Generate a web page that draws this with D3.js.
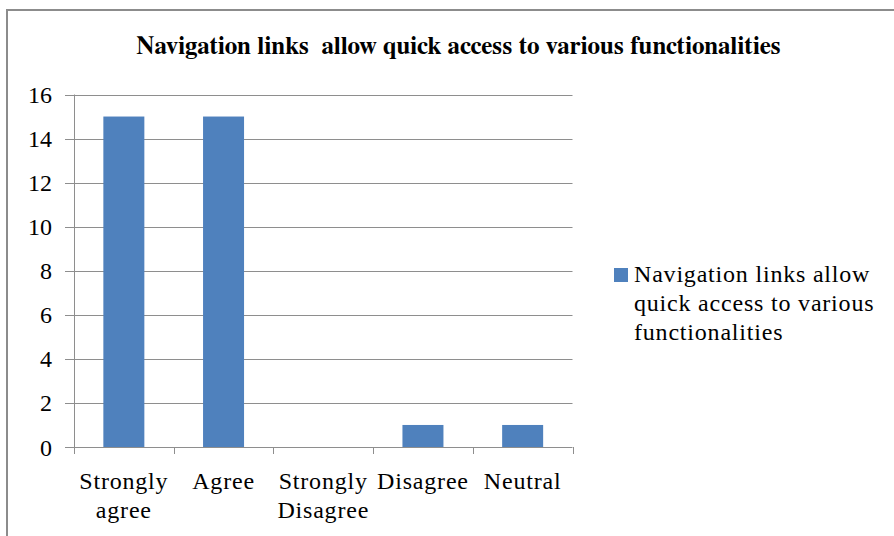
<!DOCTYPE html>
<html><head><meta charset="utf-8">
<script src="https://cdn.jsdelivr.net/npm/d3@7"></script>
</head><body style="margin:0">
<svg id="c" width="894" height="536" style="display:block"></svg>
<script>
const categories = [["Strongly","agree"],["Agree"],["Strongly","Disagree"],["Disagree"],["Neutral"]];
const values = [15, 15, 0, 1, 1];
const yTicks = [0, 2, 4, 6, 8, 10, 12, 14, 16];
const title = "Navigation links\u00A0 allow quick access to various functionalities";
const legendLines = ["Navigation links allow", "quick access to various", "functionalities"];

const svg = d3.select("#c");

svg.append("rect").attr("x", 7).attr("y", 10).attr("width", 900).attr("height", 540)
  .attr("fill", "#fff").attr("stroke", "#8c8c8c").attr("stroke-width", 2);

const pl = 74, pr = 572.5, pt = 94.5, pb = 447;
const keys = categories.map((d, i) => i);
const x = d3.scaleBand().domain(keys).range([pl, pr]).paddingInner(0).paddingOuter(0);
const y = d3.scaleLinear().domain([0, 16]).range([pb, pt]);

svg.append("g").selectAll("line").data(yTicks).join("line")
  .attr("x1", pl - 9).attr("x2", pr).attr("y1", d => Math.round(y(d)) + 0.5).attr("y2", d => Math.round(y(d)) + 0.5)
  .attr("stroke", "#8e8e8e").attr("stroke-width", 1);

const bw = 41;
svg.append("g").selectAll("rect").data(values).join("rect")
  .attr("x", (d, i) => x(i) + (x.bandwidth() - bw) / 2)
  .attr("y", d => y(d)).attr("width", bw).attr("height", d => y(0) - y(d))
  .attr("fill", "#4f81bd");

svg.append("line").attr("x1", pl + 0.5).attr("x2", pl + 0.5).attr("y1", pt).attr("y2", pb + 7)
  .attr("stroke", "#8e8e8e");
const xt = keys.map(i => x(i)).concat([pr]);
svg.append("g").selectAll("line").data(xt).join("line")
  .attr("x1", d => Math.round(d) + 0.5).attr("x2", d => Math.round(d) + 0.5).attr("y1", pb).attr("y2", pb + 7)
  .attr("stroke", "#8e8e8e");

// y tick labels
svg.selectAll("text.yt").data(yTicks).join("text").attr("class", "yt")
  .attr("x", 52).attr("y", d => y(d) + 8.5)
  .attr("text-anchor", "end")
  .style("font-family", '"Times New Roman"').style("font-size", "24px")
  .text(d => d);

// x category labels
const xlData = [];
categories.forEach((lines, i) => lines.forEach((s, j) => xlData.push({ s, i, j })));
svg.selectAll("text.xl").data(xlData).join("text").attr("class", "xl")
  .attr("x", d => x(d.i) + x.bandwidth() / 2)
  .attr("y", d => 489 + d.j * 29).attr("text-anchor", "middle")
  .style("font-family", '"Tinos"').style("font-size", "24px")
  .style("letter-spacing", "0.8px").text(d => d.s);

// title
svg.append("text").attr("x", 458.5).attr("y", 54).attr("text-anchor", "middle")
  .style("font-family", '"FreeSerif"').style("font-size", "25px")
  .style("font-weight", "bold").text(title);

// legend
svg.append("rect").attr("x", 614).attr("y", 268).attr("width", 14).attr("height", 14).attr("fill", "#4f81bd");
svg.selectAll("text.lg").data(legendLines).join("text").attr("class", "lg")
  .attr("x", 634).attr("y", (d, i) => 282 + i * 29.2)
  .style("font-family", '"Liberation Serif"').style("font-size", "24px")
  .style("letter-spacing", "0.8px").text(d => d);
</script>
</body></html>
